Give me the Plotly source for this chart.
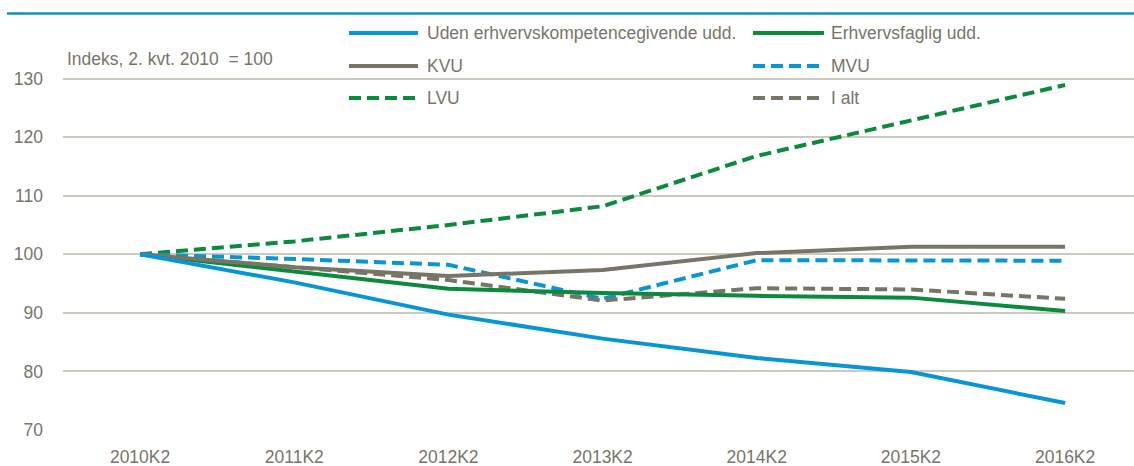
import plotly.graph_objects as go

quarters = ["2010K2", "2011K2", "2012K2", "2013K2", "2014K2", "2015K2", "2016K2"]

uden = [100, 95.2, 89.7, 85.6, 82.3, 79.9, 74.6]
erhvervsfaglig = [100, 97.1, 94.1, 93.4, 92.9, 92.6, 90.3]
kvu = [100, 97.8, 96.3, 97.3, 100.2, 101.3, 101.3]
mvu = [100, 99.2, 98.2, 92.4, 99.0, 99.0, 98.9]
lvu = [100, 102.2, 105.0, 108.2, 116.8, 122.8, 128.9]
i_alt = [100, 97.8, 95.6, 92.1, 94.2, 94.0, 92.4]

y_ticks = [70, 80, 90, 100, 110, 120, 130]

BLUE = "#0895d6"
GREEN = "#0b8a3e"
GRAY = "#787566"
TEXT = "#77756a"
GRID = "#cbcabf"
FONT = "Liberation Sans Narrow, Arial Narrow, Liberation Sans, sans-serif"
FS = 17.5

series = [
    ("Uden erhvervskompetencegivende udd.", uden, BLUE, "solid"),
    ("Erhvervsfaglig udd.", erhvervsfaglig, GREEN, "solid"),
    ("KVU", kvu, GRAY, "solid"),
    ("MVU", mvu, BLUE, "12px,6px"),
    ("LVU", lvu, GREEN, "12px,6px"),
    ("I alt", i_alt, GRAY, "12px,6px"),
]

W, H = 1134, 466
L, R, T, B = 63, 0, 20, 36
PW, PH = W - L - R, H - T - B


def px(x):
    return (x - L) / PW


def py(y):
    return (H - B - y) / PH


fig = go.Figure()
order = [4, 3, 5, 1, 2, 0]
for i in order:
    name, vals, color, dash = series[i]
    fig.add_trace(go.Scatter(
        x=quarters, y=vals, mode="lines", name=name,
        line=dict(color=color, width=4, dash=dash),
        showlegend=False,
    ))

shapes = []
annotations = []
shapes.append(dict(type="line", xref="paper", yref="y", x0=0, x1=1, y0=100, y1=100,
                   line=dict(color=GRAY, width=1.5), layer="below"))
shapes.append(dict(type="line", xref="paper", yref="paper", x0=px(7), x1=px(1134),
                   y0=py(13.5), y1=py(13.5), line=dict(color="#0a8fcf", width=2.5)))

legend_rows = [33, 66, 98]
cols = [(349, 418, 425), (753, 824, 829)]
for idx, (name, vals, color, dash) in enumerate(series):
    row = idx // 2
    col = idx % 2
    x0, x1, xt = cols[col]
    yy = legend_rows[row]
    shapes.append(dict(type="line", xref="paper", yref="paper",
                       x0=px(x0), x1=px(x1), y0=py(yy), y1=py(yy),
                       line=dict(color=color, width=4, dash=dash)))
    annotations.append(dict(xref="paper", yref="paper", x=px(xt), y=py(yy), text=name,
                            showarrow=False, xanchor="left", yanchor="middle",
                            font=dict(family=FONT, size=FS, color=TEXT)))

annotations.append(dict(xref="paper", yref="paper", x=px(65), y=py(59),
                        text="Indeks, 2. kvt. 2010  = 100", showarrow=False,
                        xanchor="left", yanchor="middle",
                        font=dict(family=FONT, size=FS, color=TEXT)))

fig.update_layout(
    width=W, height=H,
    margin=dict(l=L, r=R, t=T, b=B),
    paper_bgcolor="white", plot_bgcolor="white",
    font=dict(family=FONT, size=FS, color=TEXT),
    shapes=shapes, annotations=annotations,
    showlegend=False,
    xaxis=dict(type="category", range=[-0.5, -0.5 + PW / 154.17], showgrid=False,
               zeroline=False, showline=False, ticks="", tickfont=dict(size=FS, color=TEXT),
               ticklabelstandoff=14, fixedrange=True),
    yaxis=dict(range=[70, 140], tickvals=y_ticks, showgrid=True, gridcolor=GRID, gridwidth=1.5,
               zeroline=False, showline=False, ticks="", tickfont=dict(size=FS, color=TEXT),
               ticklabelstandoff=19, fixedrange=True),
)

fig.write_html("out.html")
